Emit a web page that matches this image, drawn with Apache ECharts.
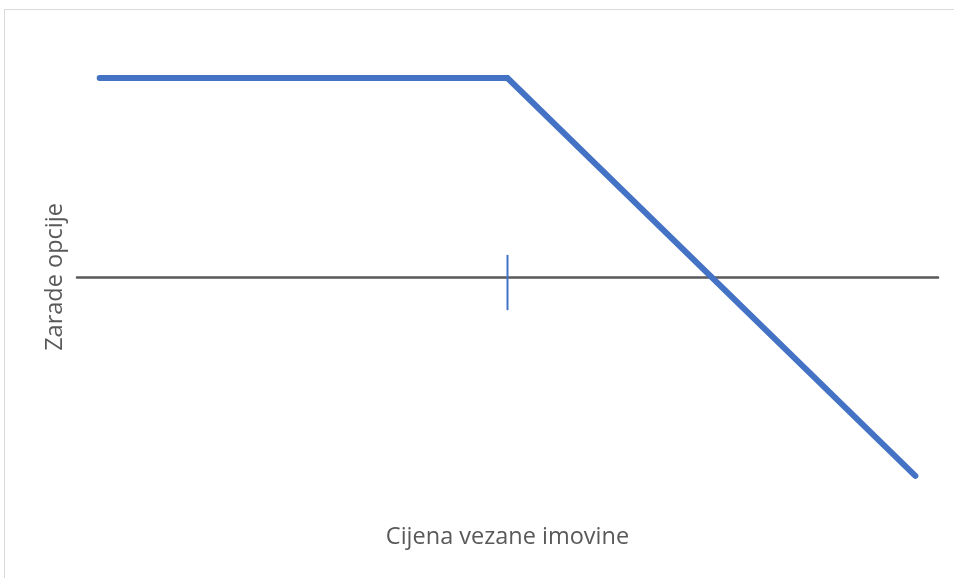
<!DOCTYPE html>
<html>
<head>
<meta charset="utf-8">
<script src="https://cdn.jsdelivr.net/npm/echarts@6/dist/echarts.min.js"></script>
<style>
  html, body { margin: 0; padding: 0; background: #fff; }
  #chart { width: 954px; height: 578px; }
</style>
</head>
<body>
<div id="chart"></div>
<script>
// cijena vezane imovine (x) i zarada prodane call opcije (y)
const prices = [10, 100, 190];
const payoff = [45, 45, -45];
// oznaka izvršne cijene na osi
const strikeTick = [[100, 5], [100, -7.5]];

const payoffData = prices.map((p, i) => [p, payoff[i]]);

const chart = echarts.init(document.getElementById('chart'));
chart.setOption({
    animation: false,
    backgroundColor: '#ffffff',
    grid: {left: 77, right: 16, top: 56, bottom: 80, outerBoundsMode: 'none'},
    graphic: [{
        type: 'rect',
        shape: {x: 4.5, y: 9.5, width: 980, height: 600},
        style: {fill: 'none', stroke: '#d9d9d9', lineWidth: 1},
        silent: true
    }],
    xAxis: {
        type: 'value',
        min: 5,
        max: 195,
        name: 'Cijena vezane imovine',
        nameLocation: 'middle',
        nameGap: 27,
        nameTextStyle: {color: '#595959', fontSize: 23.5, fontFamily: 'Open Sans'},
        axisLine: {onZero: true, lineStyle: {color: '#595959', width: 2.5}},
        axisTick: {show: false},
        axisLabel: {show: false},
        splitLine: {show: false}
    },
    yAxis: {
        type: 'value',
        min: -50,
        max: 50,
        name: 'Zarade opcije',
        nameLocation: 'middle',
        nameGap: 10,
        nameTextStyle: {color: '#595959', fontSize: 23.5, fontFamily: 'Open Sans'},
        axisLine: {show: false},
        axisTick: {show: false},
        axisLabel: {show: false},
        splitLine: {show: false}
    },
    series: [{
        type: 'line',
        data: payoffData,
        symbol: 'none',
        lineStyle: {color: '#4472C4', width: 6, cap: 'round', join: 'miter'}
    }, {
        type: 'line',
        data: strikeTick,
        symbol: 'none',
        lineStyle: {color: '#4472C4', width: 2}
    }]
});
</script>
</body>
</html>
